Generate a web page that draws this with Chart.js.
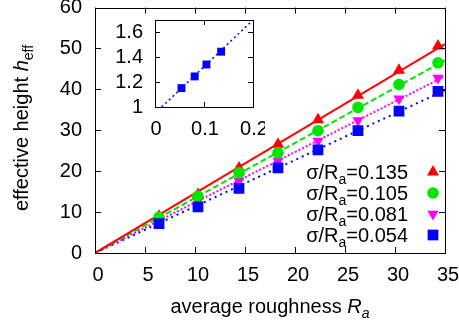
<!DOCTYPE html>
<html>
<head>
<meta charset="utf-8">
<script src="https://cdn.jsdelivr.net/npm/chart.js@4.4.0/dist/chart.umd.min.js"></script>
<style>
  html, body { margin: 0; padding: 0; background: #fff; }
  #wrap { position: relative; width: 459px; height: 321px; }
  #main { position: absolute; left: 0; top: 0; }
  #inset { position: absolute; left: 100px; top: 12px; }
</style>
</head>
<body>
<div id="wrap">
  <canvas id="main" width="459" height="321"></canvas>
  <canvas id="inset" width="165" height="128"></canvas>
</div>
<script>
// --- data ---
const roughness = [6.4, 10.3, 14.4, 18.3, 22.3, 26.3, 30.4, 34.3];
const ratioLabels = ['0.135', '0.105', '0.081', '0.054'];
const heff135 = [9.0, 14.3, 20.8, 26.6, 32.6, 38.6, 44.7, 50.6];
const heff105 = [8.7, 13.9, 19.6, 24.5, 29.9, 35.6, 41.2, 46.5];
const heff081 = [8.0, 12.7, 17.6, 22.5, 27.4, 32.4, 37.7, 42.8];
const heff054 = [7.2, 11.3, 15.8, 20.8, 25.2, 29.9, 34.7, 39.5];
// fitted lines: start at origin, end at x = 35
const fitStart = [0, 0];
const fitEndX = 35;
const fitEndY = [51.1, 47.1, 43.2, 39.8];

const xTicks = [0, 5, 10, 15, 20, 25, 30, 35];
const yTicks = [0, 10, 20, 30, 40, 50, 60];

// inset: slope h_eff/R_a against sigma/R_a
const insetRatio = [0.054, 0.081, 0.105, 0.135];
const insetSlope = [1.152, 1.246, 1.342, 1.445];
const insetLineX = [0.0137, 0.2];
const insetLineY = [1.0, 1.7];
const insetXTicks = [0, 0.1, 0.2];
const insetYTicks = [1, 1.2, 1.4, 1.6];

// --- styles ---
const FAM = '"Liberation Sans", Arial, sans-serif';
const FONT = '20px ' + FAM;
const FONT_IT = 'italic 20px ' + FAM;
const FONT_SUB = '14px ' + FAM;
const FONT_SUB_IT = 'italic 14px ' + FAM;

const colors = ['#ff0000', '#00e600', '#ff00ff', '#0000ff'];
const styles = ['triangle', 'circle', 'triangle', 'rect'];
const rotations = [0, 0, 180, 0];
const radii = [7, 5.8, 6.5, 7.6];
const dashes = [[], [6, 3], [2, 2], [2, 4]];
const pointOrder = [3, 2, 4, 1]; // blue on top, magenta lowest
const series = [heff135, heff105, heff081, heff054];

function toXY(xs, ys) {
    return xs.map((x, i) => ({ x: x, y: ys[i] }));
}

// "1" rather than "1.0", like gnuplot
const fmt = v => String(Math.round(v * 100) / 100);

function drawRich(ctx, parts, x, y) {
    parts.forEach(p => {
        ctx.font = p.font;
        ctx.fillText(p.t, x, y + (p.dy || 0));
        x += ctx.measureText(p.t).width;
    });
}
function richWidth(ctx, parts) {
    let w = 0;
    parts.forEach(p => { ctx.font = p.font; w += ctx.measureText(p.t).width; });
    return w;
}

// gnuplot-like box with inward ticks on all four sides
function boxTicks(len) {
    return {
        id: 'boxTicks',
        afterDatasetsDraw(chart) {
            const ctx = chart.ctx;
            const a = chart.chartArea;
            const sx = chart.scales.x, sy = chart.scales.y;
            ctx.save();
            ctx.strokeStyle = '#000';
            ctx.lineWidth = 1;
            ctx.beginPath();
            sx.ticks.forEach(t => {
                const px = Math.round(sx.getPixelForValue(t.value)) + 0.5;
                ctx.moveTo(px, a.bottom); ctx.lineTo(px, a.bottom - len);
                ctx.moveTo(px, a.top); ctx.lineTo(px, a.top + len);
            });
            sy.ticks.forEach(t => {
                const py = Math.round(sy.getPixelForValue(t.value)) + 0.5;
                ctx.moveTo(a.left, py); ctx.lineTo(a.left + len, py);
                ctx.moveTo(a.right, py); ctx.lineTo(a.right - len, py);
            });
            ctx.stroke();
            ctx.strokeRect(Math.round(a.left) + 0.5, Math.round(a.top) + 0.5,
                Math.round(a.right - a.left), Math.round(a.bottom - a.top));
            ctx.restore();
        }
    };
}

// axis titles and key
const labelsPlugin = {
    id: 'labels',
    afterDraw(chart) {
        const ctx = chart.ctx;
        ctx.save();
        ctx.fillStyle = '#000';
        ctx.textAlign = 'left';
        ctx.textBaseline = 'alphabetic';

        // x title
        const xt = [
            { t: 'average roughness ', font: FONT },
            { t: 'R', font: FONT_IT },
            { t: 'a', font: FONT_SUB_IT, dy: 5 }
        ];
        drawRich(ctx, xt, 270 - richWidth(ctx, xt) / 2, 313);

        // y title (rotated)
        const yt = [
            { t: 'effective height ', font: FONT },
            { t: 'h', font: FONT_IT },
            { t: 'eff', font: FONT_SUB, dy: 5 }
        ];
        ctx.save();
        ctx.translate(28, 128);
        ctx.rotate(-Math.PI / 2);
        drawRich(ctx, yt, -richWidth(ctx, yt) / 2, 0);
        ctx.restore();

        // key
        ratioLabels.forEach((lab, i) => {
            const my = 172 + i * 21;
            const parts = [
                { t: 'σ/R', font: FONT },
                { t: 'a', font: FONT_SUB, dy: 5 },
                { t: '=' + lab, font: FONT }
            ];
            ctx.fillStyle = '#000';
            drawRich(ctx, parts, 408 - richWidth(ctx, parts), my + 7);
            ctx.fillStyle = colors[i];
            Chart.helpers.drawPoint(ctx, {
                pointStyle: styles[i], rotation: rotations[i],
                radius: radii[i], borderWidth: 0
            }, 433, my);
        });
        ctx.restore();
    }
};

const datasets = [];
series.forEach((ys, i) => {
    datasets.push({
        data: toXY(roughness, ys),
        showLine: false,
        pointStyle: styles[i],
        rotation: rotations[i],
        pointRadius: radii[i],
        pointBackgroundColor: colors[i],
        pointBorderWidth: 0,
        order: pointOrder[i]
    });
    datasets.push({
        data: [{ x: fitStart[0], y: fitStart[1] }, { x: fitEndX, y: fitEndY[i] }],
        showLine: true,
        borderColor: colors[i],
        borderWidth: 2,
        borderDash: dashes[i],
        pointRadius: 0,
        order: 10 + i
    });
});

new Chart(document.getElementById('main'), {
    type: 'scatter',
    data: { datasets: datasets },
    options: {
        responsive: false,
        animation: false,
        events: [],
        layout: { padding: { left: 0, top: 7, right: 14, bottom: 0 } },
        plugins: { legend: { display: false }, tooltip: { enabled: false } },
        scales: {
            x: {
                type: 'linear', min: 0, max: 35,
                grid: { display: false, drawTicks: false },
                border: { display: false },
                afterBuildTicks: s => { s.ticks = xTicks.map(v => ({ value: v })); },
                afterFit: s => { s.height = 68; s.paddingLeft = 0; s.paddingRight = 0; },
                ticks: { color: '#000', font: { family: FAM, size: 20 }, padding: 10,
                         labelOffset: 3, maxRotation: 0, callback: fmt }
            },
            y: {
                type: 'linear', min: 0, max: 60,
                grid: { display: false, drawTicks: false },
                border: { display: false },
                afterBuildTicks: s => { s.ticks = yTicks.map(v => ({ value: v })); },
                afterFit: s => { s.width = 95; s.paddingTop = 0; s.paddingBottom = 0; },
                ticks: { color: '#000', font: { family: FAM, size: 20 }, padding: 13, callback: fmt }
            }
        }
    },
    plugins: [boxTicks(6), labelsPlugin]
});

new Chart(document.getElementById('inset'), {
    type: 'scatter',
    data: {
        datasets: [{
            data: toXY(insetRatio, insetSlope),
            showLine: false,
            pointStyle: 'rect',
            pointRadius: 5.6,
            pointBackgroundColor: '#0000ff',
            pointBorderWidth: 0
        }, {
            data: toXY(insetLineX, insetLineY),
            showLine: true,
            borderColor: '#0000ff',
            borderWidth: 1.5,
            borderDash: [2, 3],
            pointRadius: 0
        }]
    },
    options: {
        responsive: false,
        animation: false,
        events: [],
        layout: { padding: { left: 0, top: 8, right: 12, bottom: 0 } },
        plugins: { legend: { display: false }, tooltip: { enabled: false } },
        scales: {
            x: {
                type: 'linear', min: 0, max: 0.2,
                grid: { display: false, drawTicks: false },
                border: { display: false },
                afterBuildTicks: s => { s.ticks = insetXTicks.map(v => ({ value: v })); },
                afterFit: s => { s.height = 33; s.paddingLeft = 0; s.paddingRight = 0; },
                ticks: { color: '#000', font: { family: FAM, size: 20 }, padding: 10,
                         labelOffset: 1, maxRotation: 0, callback: fmt }
            },
            y: {
                type: 'linear', min: 1, max: 1.7,
                grid: { display: false, drawTicks: false },
                border: { display: false },
                afterBuildTicks: s => { s.ticks = insetYTicks.map(v => ({ value: v })); },
                afterFit: s => { s.width = 55; s.paddingTop = 0; s.paddingBottom = 0; },
                ticks: { color: '#000', font: { family: FAM, size: 20 }, padding: 12, callback: fmt }
            }
        }
    },
    plugins: [boxTicks(5)]
});
</script>
</body>
</html>
